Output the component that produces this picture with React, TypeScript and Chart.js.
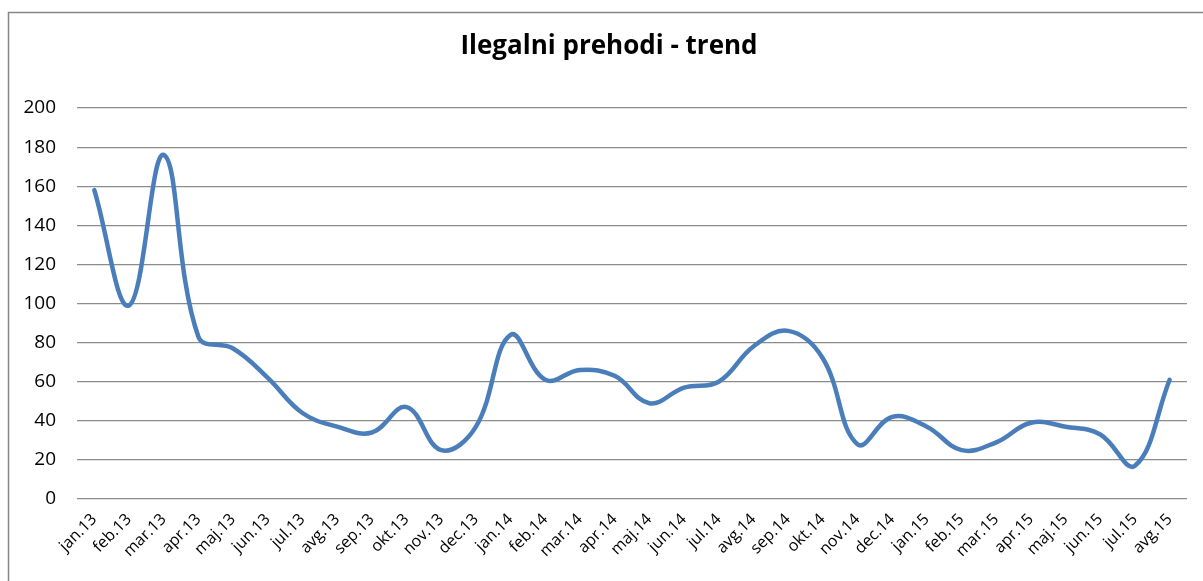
import React, { useEffect, useRef } from "react";
import { Chart, registerables } from "chart.js";

Chart.register(...registerables);

const titleText = "Ilegalni prehodi - trend";

const categories = [
  "jan.13", "feb.13", "mar.13", "apr.13", "maj.13", "jun.13", "jul.13", "avg.13",
  "sep.13", "okt.13", "nov.13", "dec.13", "jan.14", "feb.14", "mar.14", "apr.14",
  "maj.14", "jun.14", "jul.14", "avg.14", "sep.14", "okt.14", "nov.14", "dec.14",
  "jan.15", "feb.15", "mar.15", "apr.15", "maj.15", "jun.15", "jul.15", "avg.15",
];

const values = [
  158, 99, 176, 83, 77, 62, 44, 37,
  34, 47, 25, 37, 84, 61, 66, 63,
  49, 57, 60, 78, 86, 72, 28, 42,
  37, 25, 29, 39, 37, 33, 17, 61,
];

const yTicks = [0, 20, 40, 60, 80, 100, 120, 140, 160, 180, 200];

const FONT = "'Open Sans', Lato, sans-serif";

const framePlugin = {
  id: "frameAndTitle",
  beforeDraw(chart: any) {
    const ctx = chart.ctx;
    ctx.save();
    ctx.fillStyle = "#ffffff";
    ctx.fillRect(0, 0, chart.width, chart.height);
    ctx.strokeStyle = "#868686";
    ctx.lineWidth = 1.5;
    ctx.strokeRect(8.5, 12.5, chart.width + 50, chart.height + 50);
    ctx.restore();
  },
  afterDraw(chart: any) {
    const ctx = chart.ctx;
    ctx.save();
    ctx.fillStyle = "#000000";
    ctx.font = `bold 26px ${FONT}`;
    ctx.textAlign = "center";
    ctx.textBaseline = "middle";
    ctx.fillText(titleText, 609, 47);
    ctx.restore();
  },
};

export default function App() {
  const canvasRef = useRef<HTMLCanvasElement | null>(null);

  useEffect(() => {
    if (!canvasRef.current) return;
    const chart = new Chart(canvasRef.current, {
      type: "line",
      data: {
        labels: categories,
        datasets: [
          {
            data: values,
            borderColor: "#4A7EBB",
            borderWidth: 4.5,
            pointRadius: 0,
            tension: 0.4,
            fill: false,
            borderCapStyle: "round",
            borderJoinStyle: "round",
          },
        ],
      },
      options: {
        responsive: false,
        animation: false,
        layout: { padding: { top: 108, right: 16, left: 0, bottom: 0 } },
        plugins: {
          legend: { display: false },
          title: { display: false },
          tooltip: { enabled: false },
        },
        scales: {
          x: {
            offset: true,
            grid: { display: false, drawTicks: false },
            border: { display: false },
            ticks: {
              color: "#000000",
              font: { family: FONT, size: 16 },
              minRotation: 45,
              maxRotation: 45,
              autoSkip: false,
              padding: 11,
            },
            afterFit(scale: any) {
              scale.height = 82;
            },
          },
          y: {
            min: 0,
            max: 200,
            afterBuildTicks(scale: any) {
              scale.ticks = yTicks.map((v) => ({ value: v }));
            },
            grid: { color: "#8C8C8C", lineWidth: 1.2, drawTicks: false },
            border: { display: false },
            ticks: {
              color: "#000000",
              font: { family: FONT, size: 19 },
              padding: 21,
            },
            afterFit(scale: any) {
              scale.width = 77;
            },
          },
        },
      },
      plugins: [framePlugin],
    });
    return () => chart.destroy();
  }, []);

  return (
    <div style={{ position: "absolute", left: 0, top: 0, width: 1203, height: 581 }}>
      <canvas ref={canvasRef} width={1203} height={581} style={{ display: "block" }} />
    </div>
  );
}
